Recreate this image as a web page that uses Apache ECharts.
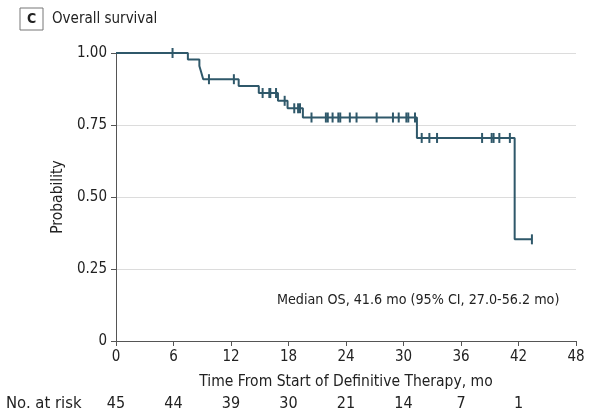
<!DOCTYPE html>
<html>
<head>
<meta charset="utf-8">
<script src="https://cdn.jsdelivr.net/npm/echarts@6/dist/echarts.min.js"></script>
<style>
html,body{margin:0;padding:0;background:#fff;}
#chart{width:592px;height:415px;}
</style>
</head>
<body>
<div id="chart"></div>
<script>
// Kaplan-Meier step points (time in months, survival probability)
var stepTimes = [0, 7.5, 8.7, 8.9, 9.1, 12.8, 14.9, 16.9, 17.9, 19.5, 31.4, 41.6, 43.4];
var stepSurv  = [1.0, 0.977, 0.955, 0.932, 0.909, 0.885, 0.861, 0.834, 0.808, 0.776, 0.705, 0.353, 0.353];
// censoring times (months)
var censorTimes = [5.9, 9.7, 12.3, 15.3, 16.0, 16.1, 16.7, 17.6, 18.6, 19.0, 19.2,
  20.4, 21.9, 22.1, 22.6, 23.2, 23.4, 24.4, 25.1, 27.2, 28.9, 29.5, 30.3, 30.5, 31.2,
  31.9, 32.7, 33.5, 38.2, 39.2, 39.4, 40.0, 41.1, 43.4];
// number at risk row
var riskTimes = [0, 6, 12, 18, 24, 30, 36, 42];
var atRisk = [45, 44, 39, 30, 21, 14, 7, 1];
var yTickLabels = {"0": "0", "0.25": "0.25", "0.5": "0.50", "0.75": "0.75", "1": "1.00"};
var titleLetter = "C";
var titleText = "Overall survival";
var medianText = "Median OS, 41.6 mo (95% CI, 27.0-56.2 mo)";

var FONT = '"Liberation Sans Narrow","DejaVu Sans Condensed","Roboto",sans-serif';
var LINE = '#2f586a';
var FS = 15.5;

function survAt(t) {
  var s = stepSurv[0];
  for (var i = 0; i < stepTimes.length; i++) {
    if (stepTimes[i] <= t) s = stepSurv[i];
  }
  return s;
}
var kmData = stepTimes.map(function (t, i) { return [t, stepSurv[i]]; });
var censorData = censorTimes.map(function (t) { return [t, survAt(t)]; });

var chart = echarts.init(document.getElementById('chart'));
var option = {
  animation: false,
  backgroundColor: '#fff',
  textStyle: { fontFamily: FONT },
  grid: { left: 116, right: 16, top: 53, bottom: 74, containLabel: false },
  xAxis: {
    type: 'value', min: 0, max: 48, interval: 6,
    name: 'Time From Start of Definitive Therapy, mo',
    nameLocation: 'middle', nameGap: 33,
    nameTextStyle: { fontFamily: FONT, fontSize: FS, color: '#222' },
    axisLine: { show: true, lineStyle: { color: '#555', width: 1 } },
    axisTick: { show: true, length: 5, lineStyle: { color: '#555' } },
    axisLabel: { fontFamily: FONT, fontSize: 15, color: '#222', margin: 9 },
    splitLine: { show: false }
  },
  yAxis: {
    type: 'value', min: 0, max: 1, interval: 0.25,
    name: 'Probability', nameLocation: 'middle', nameGap: 46,
    nameTextStyle: { fontFamily: FONT, fontSize: FS, color: '#222' },
    axisLine: { show: true, lineStyle: { color: '#555', width: 1 } },
    axisTick: { show: true, length: 5, lineStyle: { color: '#555' } },
    axisLabel: {
      fontFamily: FONT, fontSize: 15, color: '#222', margin: 9,
      formatter: function (v) { var k = String(+v.toFixed(2)); return yTickLabels[k] !== undefined ? yTickLabels[k] : k; }
    },
    splitLine: { show: true, lineStyle: { color: '#dcdcdc', width: 1 } }
  },
  series: [
    {
      type: 'line', step: 'end', data: kmData, showSymbol: false, symbol: 'none',
      lineStyle: { color: LINE, width: 2 }, z: 3
    },
    {
      type: 'scatter', data: censorData, symbol: 'rect', symbolSize: [2, 10],
      itemStyle: { color: LINE, opacity: 1 }, z: 4
    }
  ],
  graphic: []
};
chart.setOption(option);

var g = [
  { type: 'rect', shape: { x: 20, y: 8, width: 23, height: 22 }, style: { fill: '#fff', stroke: '#777', lineWidth: 1 } },
  { type: 'text', x: 31.5, y: 19.5, style: { text: titleLetter, font: 'bold 14px ' + FONT, fill: '#222', textAlign: 'center', textVerticalAlign: 'middle' } },
  { type: 'text', x: 52, y: 19, style: { text: titleText, font: '15px ' + FONT, fill: '#222', textAlign: 'left', textVerticalAlign: 'middle' } },
  { type: 'text', x: 277, y: 300, style: { text: medianText, font: '14.2px ' + FONT, fill: '#222', textAlign: 'left', textVerticalAlign: 'middle' } },
  { type: 'text', x: 6, y: 404, style: { text: 'No. at risk', font: '16.5px ' + FONT, fill: '#222', textAlign: 'left', textVerticalAlign: 'middle' } }
];
riskTimes.forEach(function (t, i) {
  var px = chart.convertToPixel({ xAxisIndex: 0 }, t);
  g.push({ type: 'text', x: px, y: 404, style: { text: String(atRisk[i]), font: '16px ' + FONT, fill: '#222', textAlign: 'center', textVerticalAlign: 'middle' } });
});
chart.setOption({ graphic: g });
</script>
</body>
</html>
